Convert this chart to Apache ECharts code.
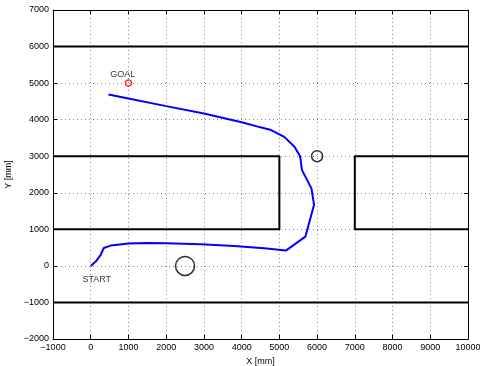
<!DOCTYPE html>
<html><head><meta charset="utf-8">
<script src="https://cdn.jsdelivr.net/npm/echarts@6/dist/echarts.min.js"></script>
<style>html,body{margin:0;padding:0;background:#fff}#c{width:480px;height:366px}</style>
</head><body><div id="c"></div>
<script>
// Robot path (x, y in mm)
const pathX = [0, 133, 265, 345, 530, 1000, 1500, 2000, 2918, 3800, 4600, 5172, 5690, 5920, 5850, 5600, 5550, 5400, 5130, 4780, 4500, 4000, 3000, 2000, 1000, 470];
const pathY = [0, 117, 300, 490, 555, 610, 625, 620, 593, 546, 480, 418, 800, 1670, 2120, 2620, 3000, 3260, 3530, 3716, 3790, 3930, 4170, 4370, 4580, 4690];
// Walls (polylines)
const wallTop = [[-1000, 6000], [10000, 6000]];
const wallBottom = [[-1000, -1000], [10000, -1000]];
const blockLeft = [[-1000, 3000], [5000, 3000], [5000, 1000], [-1000, 1000]];
const blockRight = [[10000, 3000], [7000, 3000], [7000, 1000], [10000, 1000]];
// Obstacles
const obstacleBig = [[2500, 0]];
const obstacleSmall = [[6000, 3000]];
const goal = [[1000, 5000]];
const labels = [{name: 'GOAL', x: 850, y: 5230}, {name: 'START', x: 160, y: -360}];

const pathData = pathX.map((x, i) => [x, pathY[i]]);
const font = 'Liberation Sans, Arial, sans-serif';
const fmt = v => (v < 0 ? '\u2212' + Math.abs(v) : String(v));
const wallStyle = {color: '#000', width: 2};
function wall(d) {
  return {type: 'line', data: d, symbol: 'none', lineStyle: wallStyle, silent: true, animation: false, z: 3};
}
const chart = echarts.init(document.getElementById('c'), null, {renderer: 'canvas'});
chart.setOption({
  animation: false,
  backgroundColor: '#fff',
  grid: {left: 53, right: 12, top: 10, bottom: 27, containLabel: false, outerBoundsMode: 'none'},
  xAxis: [{
    type: 'value', min: -1000, max: 10000, interval: 1000, position: 'bottom',
    name: 'X [mm]', nameLocation: 'middle', nameGap: 14,
    nameTextStyle: {fontFamily: font, fontSize: 9, color: '#000'},
    axisLine: {onZero: false, lineStyle: {color: '#000', width: 1}},
    axisTick: {inside: true, length: 4, lineStyle: {color: '#000'}},
    axisLabel: {fontFamily: font, fontSize: 9, color: '#000', margin: 4, formatter: fmt, hideOverlap: false},
    splitLine: {show: true, lineStyle: {color: '#888', type: [1, 3], width: 1}}
  }, {
    type: 'value', min: -1000, max: 10000, interval: 1000, position: 'top',
    axisLine: {onZero: false, lineStyle: {color: '#000', width: 1}},
    axisTick: {inside: true, length: 4, lineStyle: {color: '#000'}},
    axisLabel: {show: false}, splitLine: {show: false}
  }],
  yAxis: [{
    type: 'value', min: -2000, max: 7000, interval: 1000, position: 'left',
    name: 'Y [mm]', nameLocation: 'middle', nameGap: 39, nameRotate: 90,
    nameTextStyle: {fontFamily: font, fontSize: 9, color: '#000'},
    axisLine: {show: true, onZero: false, lineStyle: {color: '#000', width: 1}},
    axisTick: {show: true, inside: true, length: 4, lineStyle: {color: '#000'}},
    axisLabel: {fontFamily: font, fontSize: 9, color: '#000', margin: 4, formatter: fmt},
    splitLine: {show: true, lineStyle: {color: '#888', type: [1, 3], width: 1}}
  }, {
    type: 'value', min: -2000, max: 7000, interval: 1000, position: 'right',
    axisLine: {show: true, onZero: false, lineStyle: {color: '#000', width: 1}},
    axisTick: {show: true, inside: true, length: 4, lineStyle: {color: '#000'}},
    axisLabel: {show: false}, splitLine: {show: false}
  }],
  series: [
    wall(wallTop), wall(wallBottom), wall(blockLeft), wall(blockRight),
    {type: 'line', data: pathData, symbol: 'none', smooth: false,
     lineStyle: {color: '#0000ff', width: 2}, z: 4},
    {type: 'scatter', data: obstacleBig, symbol: 'circle', symbolSize: 19,
     itemStyle: {color: 'rgba(0,0,0,0)', borderColor: '#000', borderWidth: 1.5}, z: 5},
    {type: 'scatter', data: obstacleSmall, symbol: 'circle', symbolSize: 11,
     itemStyle: {color: 'rgba(0,0,0,0)', borderColor: '#000', borderWidth: 1.5}, z: 5},
    {type: 'scatter', data: goal, symbol: 'circle', symbolSize: 6,
     itemStyle: {color: 'rgba(0,0,0,0)', borderColor: '#ff0000', borderWidth: 1.5}, z: 5},
    {type: 'scatter', data: labels.map(l => ({name: l.name, value: [l.x, l.y]})),
     symbolSize: 0, z: 6,
     label: {show: true, position: 'inside', formatter: p => p.name,
       fontFamily: font, fontSize: 9, color: '#000', textBorderWidth: 0}}
  ]
});
</script></body></html>
